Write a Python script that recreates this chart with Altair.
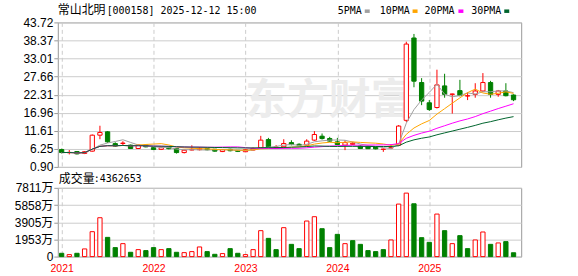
import altair as alt
import pandas as pd

# ---- data (monthly K-line, Jan 2021 .. Dec 2025) ----
open_ = [6.04, 5.10, 5.45, 4.90, 5.57, 10.30, 11.30, 7.80, 7.85, 7.35, 6.35, 7.35,
         6.60, 6.10, 6.80, 6.35, 5.15, 5.90, 6.00, 6.30, 6.15, 5.45, 6.10, 5.80,
         5.40, 5.90, 6.55, 9.00, 6.60, 6.85, 8.10, 7.60, 7.35, 8.84, 10.00, 9.30,
         8.33, 7.35, 7.60, 7.05, 6.85, 6.85, 6.10, 6.50, 7.35, 14.70, 39.10, 25.90,
         19.90, 18.50, 24.90, 22.40, 23.50, 21.90, 22.40, 23.40, 25.90, 22.40, 23.40, 22.20]
close = [5.15, 5.20, 4.77, 5.40, 10.30, 11.10, 8.33, 7.05, 7.95, 6.35, 7.35, 6.85,
         6.05, 6.60, 6.30, 5.15, 5.85, 6.10, 6.40, 6.00, 5.57, 6.00, 5.70, 5.50,
         6.00, 6.40, 8.83, 6.85, 6.80, 7.83, 7.50, 7.30, 8.54, 10.50, 9.30, 8.54,
         7.53, 8.10, 7.90, 6.35, 6.30, 6.25, 6.16, 6.60, 13.00, 37.30, 26.30, 20.40,
         17.90, 25.20, 22.40, 22.50, 22.10, 22.00, 23.40, 25.90, 22.40, 23.40, 22.00, 20.80]
high = [6.30, 5.90, 5.60, 5.60, 10.50, 13.10, 11.50, 8.20, 8.50, 7.50, 7.50, 7.50,
        6.80, 7.00, 7.00, 6.50, 6.00, 7.30, 6.80, 6.50, 6.20, 6.10, 6.30, 5.90,
        6.10, 6.70, 10.10, 9.50, 7.35, 9.10, 8.80, 7.90, 9.10, 11.50, 10.80, 9.80,
        9.50, 8.80, 8.30, 7.30, 7.00, 7.00, 6.35, 7.65, 13.30, 38.00, 40.30, 27.20,
        20.70, 29.70, 28.50, 22.60, 26.70, 23.00, 25.70, 28.70, 26.40, 23.70, 25.70, 22.40]
low = [4.90, 4.60, 4.60, 4.70, 5.40, 9.10, 8.00, 6.80, 7.30, 6.20, 6.20, 6.70,
       5.90, 5.90, 6.10, 4.86, 4.90, 5.80, 5.80, 5.80, 5.40, 5.30, 5.50, 5.30,
       5.30, 5.80, 6.30, 6.55, 6.50, 6.35, 7.30, 7.10, 7.20, 8.60, 9.00, 8.30,
       7.30, 5.87, 7.40, 6.20, 6.20, 6.10, 5.36, 6.16, 7.20, 14.20, 24.50, 19.20,
       17.50, 18.20, 21.40, 16.70, 21.80, 20.70, 21.40, 23.10, 21.40, 21.70, 21.80, 20.40]
volume_wan = [375, 225, 375, 870, 2830, 4415, 2185, 1020, 1470, 490, 790, 680,
              1020, 790, 905, 490, 450, 565, 1095, 565, 260, 340, 905, 375,
              225, 790, 2945, 2070, 790, 3285, 1390, 905, 4040, 4530, 3170, 1020,
              2525, 1470, 1810, 1390, 680, 565, 790, 1890, 5965, 7210, 6000, 2150,
              1620, 4830, 2945, 1470, 2380, 905, 1890, 2795, 1390, 1550, 1700, 436]

price_ticks = [0.90, 6.25, 11.61, 16.96, 22.31, 27.66, 33.01, 38.37, 43.72]
vol_ticks = [0, 1953, 3905, 5858, 7811]
year_ticks = [0, 12, 24, 36, 48]
year_labels = ["2021", "2022", "2023", "2024", "2025"]
ma_names = ["ma5", "ma10", "ma20", "ma30"]
ma_labels = ["5PMA", "10PMA", "20PMA", "30PMA"]
ma_colors = ["#a0a0a0", "#ffa500", "#ff00ff", "#00642d"]

RED = "#ff0000"
GREEN = "#008000"

df = pd.DataFrame({"i": list(range(len(close))), "open": open_, "high": high,
                   "low": low, "close": close, "vol": volume_wan})
prev = df["close"].shift(1).fillna(df["open"])
df["up"] = (df["close"] >= df["open"]).astype(int)
df["vup"] = (df["close"] >= prev).astype(int)
for n, name in zip([5, 10, 20, 30], ma_names):
    df[name] = df["close"].rolling(n, min_periods=1).mean()

W = 465
H_PRICE = 145
H_VOL = 69

xscale = alt.Scale(domain=[-0.5, 60.0], nice=False, zero=False)
grid_axis = alt.Axis(values=year_ticks, labels=False, ticks=False, domain=False,
                     grid=True, gridDash=[4, 3], gridColor="#cccccc", title=None)
year_axis = alt.Axis(values=year_ticks, ticks=False, domain=False, grid=True,
                     gridDash=[4, 3], gridColor="#cccccc", title=None,
                     labelColor=RED, labelFontSize=10.5, labelPadding=7,
                     labelExpr="[" + ",".join("'%s'" % y for y in year_labels) + "][datum.value / 12]")
pscale = alt.Scale(domain=[price_ticks[0], price_ticks[-1]], nice=False, zero=False)
paxis = alt.Axis(values=price_ticks, format=".2f", grid=True, gridColor="#cccccc",
                 tickSize=4, labelPadding=1, domain=False, title=None)
vscale = alt.Scale(domain=[0, vol_ticks[-1]], nice=False)
vaxis = alt.Axis(values=vol_ticks, grid=True, gridColor="#cccccc", tickSize=4,
                 labelPadding=1, domain=False, title=None,
                 labelExpr="datum.value == 0 ? '0' : format(datum.value, 'd') + '万'")

base = alt.Chart(df)
up_cond = "datum.up == 1"

one = pd.DataFrame({"k": [0]})

watermark = alt.Chart(one).mark_text(
    text="东方财富", font="Noto Sans CJK SC", fontSize=42, fontWeight="bold",
    color="#ececec", align="left", baseline="alphabetic"
).encode(x=alt.value(188), y=alt.value(92))

wicks = base.mark_rule(strokeWidth=1).encode(
    x=alt.X("i:Q", scale=xscale, axis=grid_axis),
    y=alt.Y("low:Q", scale=pscale, axis=paxis),
    y2="high:Q",
    color=alt.condition(up_cond, alt.value(RED), alt.value(GREEN)),
)
bodies = base.transform_calculate(xa="datum.i - 0.28", xb="datum.i + 0.28").mark_bar(
    strokeWidth=1
).encode(
    x=alt.X("xa:Q", scale=xscale, axis=grid_axis),
    x2="xb:Q",
    y=alt.Y("open:Q", scale=pscale, axis=paxis),
    y2="close:Q",
    fill=alt.condition(up_cond, alt.value("#ffffff"), alt.value(GREEN)),
    stroke=alt.condition(up_cond, alt.value(RED), alt.value(GREEN)),
)
mas = base.transform_fold(ma_names, as_=["ma", "val"]).mark_line(strokeWidth=1).encode(
    x=alt.X("i:Q", scale=xscale, axis=grid_axis),
    y=alt.Y("val:Q", scale=pscale, axis=paxis),
    color=alt.Color("ma:N", scale=alt.Scale(domain=ma_names, range=ma_colors), legend=None),
    detail="ma:N",
)

title_cjk = alt.Chart(one).mark_text(
    text="常山北明", font="Noto Sans CJK SC", fontSize=12, align="left", baseline="middle", color="#000"
).encode(x=alt.value(0), y=alt.value(-12))
title_rest = alt.Chart(one).mark_text(
    text="[000158] 2025-12-12 15:00", font="DejaVu Sans Mono", fontSize=10, align="left",
    baseline="middle", color="#000"
).encode(x=alt.value(49), y=alt.value(-11.5))

legend_layers = []
text_x = [281, 323, 368, 415]
sq_x = [308, 356, 402, 448]
for lab, col, tx, sx in zip(ma_labels, ma_colors, text_x, sq_x):
    legend_layers.append(alt.Chart(one).mark_text(
        text=lab, font="DejaVu Sans Mono", fontSize=10, align="left", baseline="middle", color="#000"
    ).encode(x=alt.value(tx), y=alt.value(-11)))
    legend_layers.append(alt.Chart(one).mark_rect(color=col).encode(
        x=alt.value(sx), x2=alt.value(sx + 5), y=alt.value(-13), y2=alt.value(-9.5)))

price = alt.layer(watermark, wicks, bodies, mas, title_cjk, title_rest, *legend_layers).properties(
    width=W, height=H_PRICE)

vup_cond = "datum.vup == 1"
vbars = base.transform_calculate(
    xa="datum.i - 0.28", xb="datum.i + 0.28", zero="0"
).mark_bar(strokeWidth=1).encode(
    x=alt.X("xa:Q", scale=xscale, axis=year_axis),
    x2="xb:Q",
    y=alt.Y("vol:Q", scale=vscale, axis=vaxis),
    y2="zero:Q",
    fill=alt.condition(vup_cond, alt.value("#ffffff"), alt.value(GREEN)),
    stroke=alt.condition(vup_cond, alt.value(RED), alt.value(GREEN)),
)
vol_cjk = alt.Chart(one).mark_text(
    text="成交量", font="Noto Sans CJK SC", fontSize=12, align="left", baseline="middle", color="#000"
).encode(x=alt.value(1), y=alt.value(-9))
vol_rest = alt.Chart(one).mark_text(
    text=":4362653", font="DejaVu Sans Mono", fontSize=10, align="left", baseline="middle", color="#000"
).encode(x=alt.value(36), y=alt.value(-8.5))

vol = alt.layer(vbars, vol_cjk, vol_rest).properties(width=W, height=H_VOL)

chart = alt.vconcat(price, vol, spacing=21, bounds="flush").properties(
    padding={"left": 13, "top": 3, "right": 56, "bottom": 4},
).configure_view(stroke="#999999", strokeWidth=1).configure_axis(
    labelFont="Liberation Sans, Noto Sans CJK SC", labelFontSize=12, labelColor="#000000",
    tickColor="#999999",
)

chart.save("out.html", embed_options={"renderer": "svg", "actions": False})
